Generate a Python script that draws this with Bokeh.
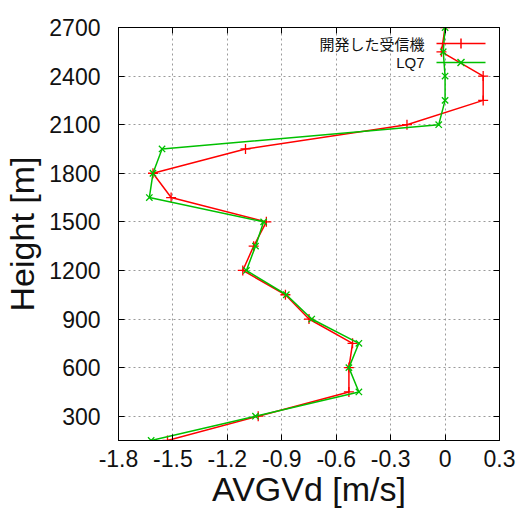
from bokeh.plotting import figure
from bokeh.models import LinearAxis, FixedTicker, Range1d, Label, Arrow
from bokeh.embed import file_html
from bokeh.resources import INLINE

heights = [150, 300, 450, 600, 750, 900, 1050, 1200, 1350, 1500, 1650, 1800,
           1950, 2100, 2250, 2400, 2550, 2700]
dev_rx = [-1.53, -1.03, -0.53, -0.53, -0.51, -0.75, -0.88, -1.115, -1.055, -0.985,
          -1.51, -1.61, -1.10, -0.21, 0.21, 0.21, -0.02, 0.0]
lq7 = [-1.62, -1.045, -0.475, -0.53, -0.475, -0.735, -0.875, -1.095, -1.045, -1.0,
       -1.63, -1.61, -1.56, -0.035, 0.0, 0.0, -0.01, 0.0]
series_names = ["開発した受信機", "LQ7"]

x_ticks = [-1.8, -1.5, -1.2, -0.9, -0.6, -0.3, 0, 0.3]
x_tick_labels = ["-1.8", "-1.5", "-1.2", "-0.9", "-0.6", "-0.3", "0", "0.3"]
y_ticks = [300, 600, 900, 1200, 1500, 1800, 2100, 2400, 2700]
y_tick_labels = ["300", "600", "900", "1200", "1500", "1800", "2100", "2400", "2700"]

FONT = "Liberation Sans"
RED = "#ff0000"
GREEN = "#00c000"

p = figure(width=518, height=512, x_range=Range1d(-1.8, 0.3), y_range=Range1d(150, 2700),
           output_backend="svg", toolbar_location=None,
           min_border_left=112, min_border_top=27, min_border_right=19, min_border_bottom=72)
p.background_fill_color = "white"
p.outline_line_color = "black"
p.outline_line_width = 1

xt = FixedTicker(ticks=x_ticks)
yt = FixedTicker(ticks=y_ticks)

for ax in p.xaxis:
    ax.ticker = xt
    ax.major_label_overrides = dict(zip(x_ticks, x_tick_labels))
    ax.axis_label = "AVGVd [m/s]"
    ax.major_label_standoff = 9
    ax.axis_label_standoff = 0
for ax in p.yaxis:
    ax.ticker = yt
    ax.major_label_overrides = dict(zip(y_ticks, y_tick_labels))
    ax.axis_label = "Height [m]"
    ax.major_label_standoff = 18
    ax.axis_label_standoff = 5

for ax in list(p.xaxis) + list(p.yaxis):
    ax.major_tick_in = 6
    ax.major_tick_out = 0
    ax.minor_tick_line_color = None
    ax.axis_line_color = "black"
    ax.major_tick_line_color = "black"
    ax.major_label_text_font = FONT
    ax.major_label_text_font_size = "23px"
    ax.major_label_text_color = "#111111"
    ax.axis_label_text_font = FONT
    ax.axis_label_text_font_size = "34px"
    ax.axis_label_text_font_style = "normal"
    ax.axis_label_text_color = "#111111"

top_ax = LinearAxis(ticker=xt, major_label_text_font_size="1px", major_label_text_color=None,
                    major_tick_in=6, major_tick_out=0, minor_tick_line_color=None,
                    major_label_standoff=0)
right_ax = LinearAxis(ticker=yt, major_label_text_font_size="1px", major_label_text_color=None,
                      major_tick_in=6, major_tick_out=0, minor_tick_line_color=None,
                      major_label_standoff=0)
p.add_layout(top_ax, "above")
p.add_layout(right_ax, "right")

p.xgrid.ticker = xt
p.ygrid.ticker = yt
for g in (p.xgrid, p.ygrid):
    g.grid_line_color = "#9a9a9a"
    g.grid_line_dash = "2 3"
    g.grid_line_width = 1

p.line(dev_rx, heights, line_color=RED, line_width=1.5)
p.scatter(dev_rx, heights, marker="cross", size=10, line_color=RED, line_width=1.3)
p.line(lq7, heights, line_color=GREEN, line_width=1.5)
p.scatter(lq7, heights, marker="x", size=9, line_color=GREEN, line_width=1.3)


def seg(x0, y0, x1, y1, color):
    p.add_layout(Arrow(x_start=x0, y_start=y0, x_end=x1, y_end=y1,
                       start_units="screen", end_units="screen", end=None, start=None,
                       line_color=color, line_width=1.5))


# legend: text on the left, sample line + marker on the right (screen units)
LX0, LX1, LXC = 318, 367, 342.5
rows = [(397, RED, "cross"), (378, GREEN, "x")]
for (ly, col, mk), name in zip(rows, series_names):
    p.add_layout(Label(x=306, y=ly, x_units="screen", y_units="screen", text=name,
                       text_align="right", text_baseline="middle",
                       text_font="Noto Sans CJK JP" if name != "LQ7" else FONT,
                       text_font_size="15px", text_color="#111111"))
    seg(LX0, ly, LX1, ly, col)
    if mk == "cross":
        seg(LXC, ly - 5, LXC, ly + 5, col)
    else:
        seg(LXC - 3.5, ly - 3.5, LXC + 3.5, ly + 3.5, col)
        seg(LXC - 3.5, ly + 3.5, LXC + 3.5, ly - 3.5, col)

open("out.html", "w").write(file_html(p, INLINE))
